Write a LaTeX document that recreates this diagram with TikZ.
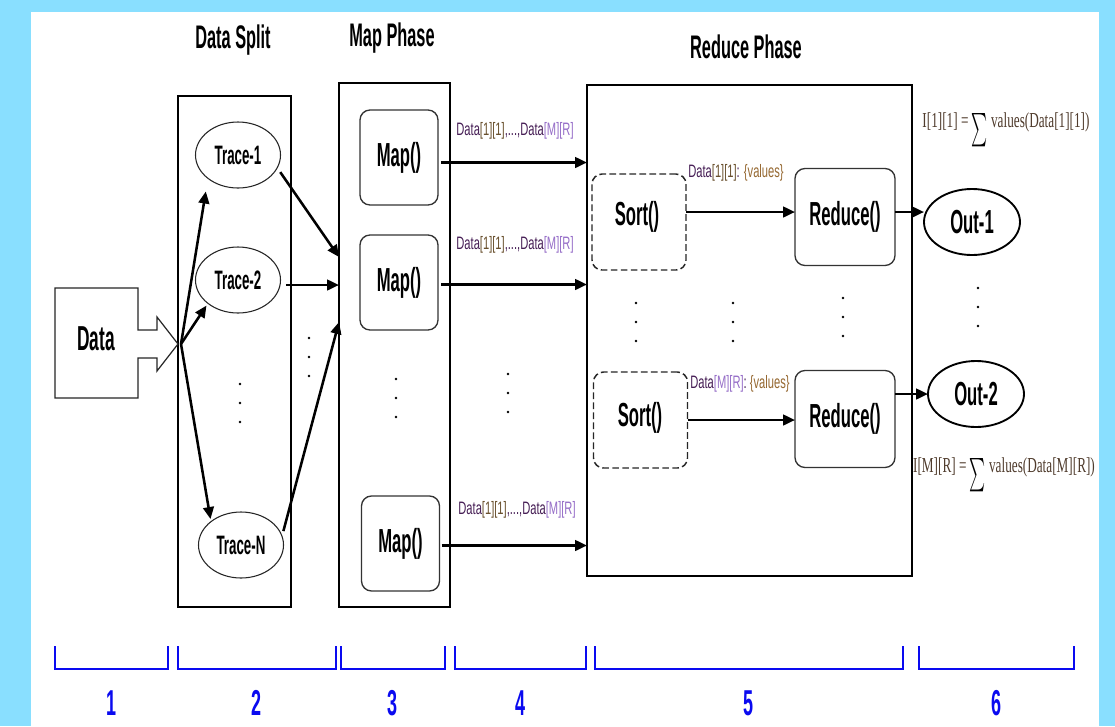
\documentclass[tikz,border=0pt]{standalone}
\usepackage{graphicx}
\usepackage{fontspec}
\setmainfont{Liberation Sans}
\newfontfamily\condsans[FakeStretch=0.62]{Liberation Sans}
\newfontfamily\tallsans[FakeStretch=0.5]{Liberation Sans}
\newfontfamily\condserif[FakeStretch=0.62]{Liberation Serif}
\newfontfamily\digitsans[FakeStretch=0.5]{Liberation Sans}
\usetikzlibrary{arrows.meta,shapes.geometric,calc}

\definecolor{skyframe}{RGB}{137,223,255}
\definecolor{labdark}{RGB}{70,30,85}
\definecolor{labidx}{RGB}{105,80,45}
\definecolor{lablav}{RGB}{150,110,200}
\definecolor{labval}{RGB}{150,105,50}
\definecolor{frmtext}{RGB}{80,60,45}
\definecolor{brkblue}{RGB}{10,10,240}

% small key labels on the data-flow arrows
\newcommand{\keyrange}{\textcolor{labdark}{Data}\textcolor{labidx}{[1][1]}\textcolor{labdark}{,...,Data}\textcolor{lablav}{[M][R]}}
\newcommand{\firstkey}{\textcolor{labdark}{Data}\textcolor{labidx}{[1][1]}\textcolor{labdark}{:} \textcolor{labval}{\{values\}}}
\newcommand{\lastkey}{\textcolor{labdark}{Data}\textcolor{lablav}{[M][R]}\textcolor{labdark}{:} \textcolor{labval}{\{values\}}}
% tall summation sign centred on the baseline
\newcommand{\bigsum}{\raisebox{-13pt}{\textcolor{black}{\resizebox*{12pt}{25pt}{$\sum$}}}}

\begin{document}
\begin{tikzpicture}[x=0.75pt,y=-0.75pt,
  every node/.style={inner sep=0pt, outer sep=0pt},
  title/.style={font=\tallsans\bfseries\fontsize{24.5}{26}\selectfont},
  phasebox/.style={draw=black, line width=0.9pt, rectangle},
  tracenode/.style={ellipse, draw=black!85, line width=0.8pt,
    minimum width=63.75pt, minimum height=49.5pt,
    font=\tallsans\bfseries\fontsize{20}{22}\selectfont},
  mapnode/.style={rectangle, rounded corners=7.5pt, draw=black!80, line width=1pt,
    minimum width=58.5pt, minimum height=71.25pt,
    font=\tallsans\bfseries\fontsize{25}{27}\selectfont},
  sortnode/.style={rectangle, rounded corners=7.5pt, draw=black!85, line width=1.1pt,
    dash pattern=on 5pt off 2.5pt,
    minimum width=70.5pt, minimum height=72pt},
  reducenode/.style={rectangle, rounded corners=7.5pt, draw=black!80, line width=1pt,
    minimum width=75pt, minimum height=72.75pt,
    font=\tallsans\bfseries\fontsize{25}{27}\selectfont},
  outnode/.style={ellipse, draw=black, line width=1.4pt,
    minimum width=72pt, minimum height=49.5pt,
    font=\tallsans\bfseries\fontsize{25}{27}\selectfont},
  tasklabel/.style={font=\tallsans\bfseries\fontsize{25}{27}\selectfont},
  keylabel/.style={font=\condsans\fontsize{13.5}{15}\selectfont},
  formula/.style={font=\condserif\fontsize{16}{18}\selectfont, text=frmtext},
  flow/.style={line width=1.9pt, -{Triangle[length=9pt,width=8pt]}},
  bracket/.style={draw=brkblue, line width=2.2pt},
  stepnum/.style={font=\digitsans\bfseries\fontsize{27}{28}\selectfont, text=brkblue}
]
\useasboundingbox (0,0) rectangle (1115,726);
\fill[skyframe] (0,0) rectangle (1115,726);
\fill[white] (31,12) rectangle (1099,726);

% phase titles
\node[title] (tsplit) at (233,40) {Data Split};
\node[title] (tmap) at (392,38) {Map Phase};
\node[title] (treduce) at (746,47) {Reduce Phase};

% phase frames
\node[phasebox, minimum width=84.75pt, minimum height=383.25pt] (sp) at (234.5,351.5) {};
\node[phasebox, minimum width=83.25pt, minimum height=393pt] (mp) at (394.5,345) {};
\node[phasebox, minimum width=243.75pt, minimum height=368.25pt] (rp) at (749.5,330.5) {};

% input block with its hollow arrow
\draw[black!85, line width=0.9pt] (55,288) -- (138,288) -- (138,330) -- (157,330) -- (157,317)
  -- (178,344) -- (157,371) -- (157,358) -- (138,358) -- (138,398) -- (55,398) -- cycle;
\node[font=\tallsans\bfseries\fontsize{26}{28}\selectfont] (data) at (96,339) {Data};
\coordinate (dtip) at (181,344);

% split traces
\node[tracenode] (t1) at (238,155) {Trace-1};
\node[tracenode] (t2) at (238,280) {Trace-2};
\node[tracenode] (tn) at (241,545) {Trace-N};

% map tasks
\node[mapnode] (m1) at (399,157.5) {Map()};
\node[mapnode] (m2) at (399,282.5) {Map()};
\node[mapnode] (m3) at (400.5,543.5) {Map()};

% sort and reduce tasks
\node[sortnode] (s1) at (639,222) {};
\node[tasklabel] (s1t) at (637,217) {Sort()};
\node[sortnode] (s2) at (640.5,420) {};
\node[tasklabel] (s2t) at (640,418) {Sort()};
\node[reducenode] (r1) at (845,217) {Reduce()};
\node[reducenode] (r2) at (845,419) {Reduce()};

% outputs
\node[outnode] (o1) at (972,222) {Out-1};
\node[outnode] (o2) at (976,394) {Out-2};

% input to traces
\draw[flow, shorten >=10pt] (dtip) -- (t1.south west);
\draw[flow, shorten >=2pt] (dtip) -- (t2.south west);
\draw[flow, shorten >=2pt] (dtip) -- (tn.north west);

% traces to map phase
\coordinate (in1) at (mp.west |- 0,257);
\coordinate (in2) at (mp.west |- 0,285);
\coordinate (in3) at (mp.west |- 0,322);
\draw[flow, shorten <=4pt] (t1.-18) -- (in1);
\draw[flow, shorten <=4pt] (t2.east |- in2) -- (in2);
\draw[flow, shorten <=4pt] (tn.12) -- (in3);

% map outputs to reduce phase
\coordinate (a1) at ($(m1.east)+(3,5)$);
\coordinate (a2) at ($(m2.east)+(3,2)$);
\coordinate (a3) at ($(m3.east)+(2,2)$);
\draw[flow] (a1) -- (a1 -| rp.west);
\draw[flow] (a2) -- (a2 -| rp.west);
\draw[flow] (a3) -- (a3 -| rp.west);
\node[keylabel] (k1) at (515,131) {\keyrange};
\node[keylabel] (k2) at (515,245) {\keyrange};
\node[keylabel] (k3) at (517,510) {\keyrange};

% sort to reduce
\coordinate (b1) at (s1.east |- 0,212);
\draw[flow] (b1) -- (b1 -| r1.west);
\draw[flow] (s2.east) -- (s2.east -| r2.west);
\node[keylabel] (k4) at (736,173) {\firstkey};
\node[keylabel] (k5) at (740,384) {\lastkey};

% reduce to outputs
\coordinate (c1) at (r1.east |- 0,212);
\draw[flow] (c1) -- (c1 -| o1.west);
\draw[flow] (r2.east |- o2.west) -- (o2.west);

% output formulas
\node[formula] (f1) at (1006,130) {I[1][1] = \bigsum\ values(Data[1][1])};
\node[formula] (f2) at (1004,475) {I[M][R] = \bigsum\ values(Data[M][R])};

% elided items
\foreach \x/\y in {240/403, 309/357, 396/398, 508/393, 636/322, 733/322, 843/317, 978/307}
  \foreach \d in {-19,0,19}
    \fill (\x,\y+\d) circle (1.3);

% step brackets and numbers
\foreach \a/\b/\n in {55/168/1, 178/336/2, 341/445/3, 455/586/4, 595/903/5, 919/1074/6} {
  \draw[bracket] (\a,646) -- (\a,669) -- (\b,669) -- (\b,646);
  \node[stepnum] (n\n) at ({(\a+\b)/2},703) {\n};
}
\end{tikzpicture}
\end{document}
